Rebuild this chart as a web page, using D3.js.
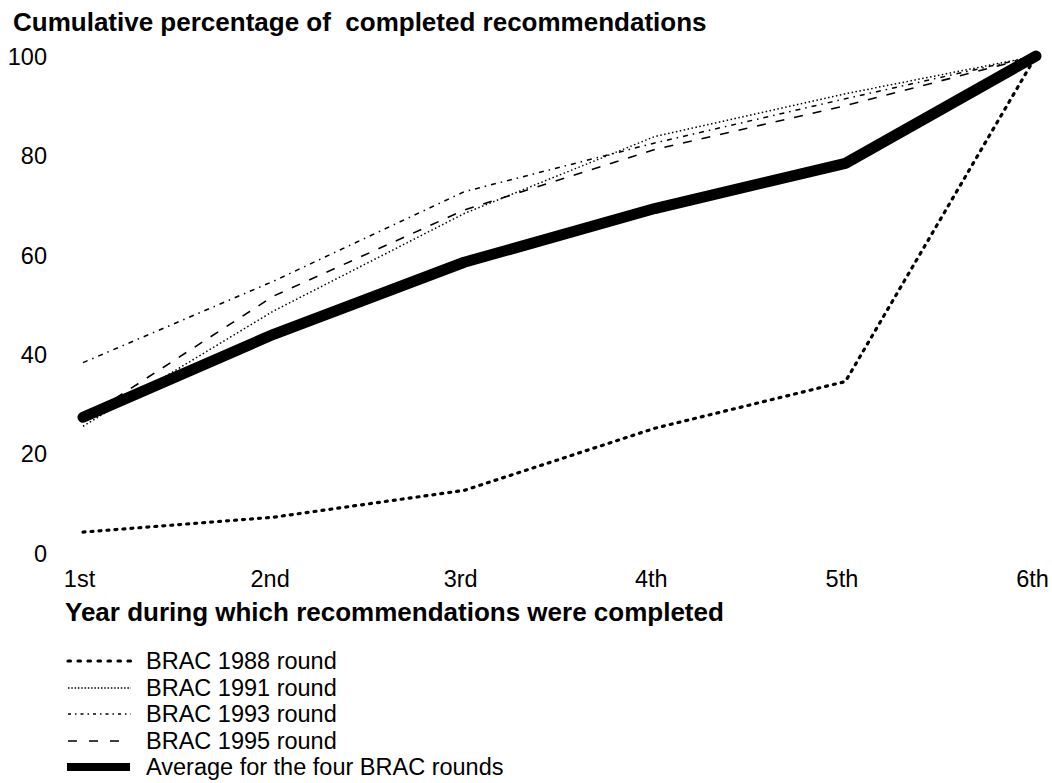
<!DOCTYPE html>
<html><head><meta charset="utf-8">
<script src="https://cdn.jsdelivr.net/npm/d3@7"></script>
<style>body{margin:0;background:#fff}svg{display:block}text{font-family:"Liberation Sans",Arial,sans-serif;fill:#000}</style>
</head><body>
<svg id="c" width="1052" height="783"></svg>
<script>
const years = ["1st","2nd","3rd","4th","5th","6th"];
const yTicks = [0,20,40,60,80,100];
const brac1988 = [4.2, 7.2, 12.6, 25.1, 34.5, 100];
const brac1991 = [25.5, 48.7, 68.3, 83.8, 92.4, 100];
const brac1993 = [38.3, 54.7, 72.7, 82.5, 91.4, 100];
const brac1995 = [26.9, 51.7, 69.0, 81.2, 90.0, 100];
const average  = [27.3, 44.0, 58.5, 69.3, 78.4, 100];
const seriesNames = ["BRAC 1988 round","BRAC 1991 round","BRAC 1993 round","BRAC 1995 round","Average for the four BRAC rounds"];

const styles = [
  {w:3.2, dash:"2 6", legDash:"2.5 7.5", cap:"round"},
  {w:1.5, dash:"1.5 2.5", legDash:"1.5 1.8", cap:"butt"},
  {w:1.5, dash:"5 5 1.5 5", legDash:"3 4 1.5 4", cap:"butt"},
  {w:1.6, dash:"9 10", legDash:"9 12", cap:"butt"},
  {w:11, dash:null, legDash:null, cap:"round"}
];
const data = [brac1988, brac1991, brac1993, brac1995, average];

const svg = d3.select("#c");
const x = d3.scalePoint().domain(years).range([83, 1036]);
const y = d3.scaleLinear().domain([0,100]).range([553, 56]);

svg.append("text").attr("x",13).attr("y",31).attr("font-size",26).attr("font-weight","bold")
  .attr("xml:space","preserve").style("white-space","pre")
  .text("Cumulative percentage of  completed recommendations");

const yAxis = svg.append("g").attr("transform","translate(47,0)")
  .call(d3.axisLeft(y).tickValues(yTicks).tickSize(0).tickPadding(0));
yAxis.select(".domain").remove();
yAxis.selectAll("text").attr("font-size",23.5).style("font-family","'Liberation Sans',Arial,sans-serif").attr("dy","0.35em");

const xAxis = svg.append("g").attr("transform","translate(-4,570)")
  .call(d3.axisBottom(x).tickSize(0).tickPadding(0));
xAxis.select(".domain").remove();
xAxis.selectAll("text").attr("font-size",23.5).style("font-family","'Liberation Sans',Arial,sans-serif").attr("dy","0.72em");

svg.append("text").attr("x",65).attr("y",621).attr("font-size",26).attr("font-weight","bold")
  .text("Year during which recommendations were completed");

const line = d3.line().x((d,i)=>x(years[i])).y(d=>y(d));
data.forEach((s,k)=>{
  const st = styles[k];
  svg.append("path").datum(s).attr("d",line).attr("fill","none").attr("stroke","#000")
    .attr("stroke-width",st.w).attr("stroke-dasharray",st.dash).attr("stroke-linecap",st.cap)
    .attr("stroke-linejoin","round");
});

const legY = [661, 688, 714, 741, 767];
seriesNames.forEach((n,k)=>{
  const st = styles[k];
  svg.append("line").attr("x1",k==4?67:68).attr("x2",k==4?130:131).attr("y1",legY[k]).attr("y2",legY[k])
    .attr("stroke","#000").attr("stroke-width",k==4?8:st.w).attr("stroke-dasharray",st.legDash)
    .attr("stroke-linecap",k==4?"butt":st.cap);
  svg.append("text").attr("x",146).attr("y",legY[k]).attr("dy","0.35em").attr("font-size",23.5).text(n);
});
</script>
</body></html>
